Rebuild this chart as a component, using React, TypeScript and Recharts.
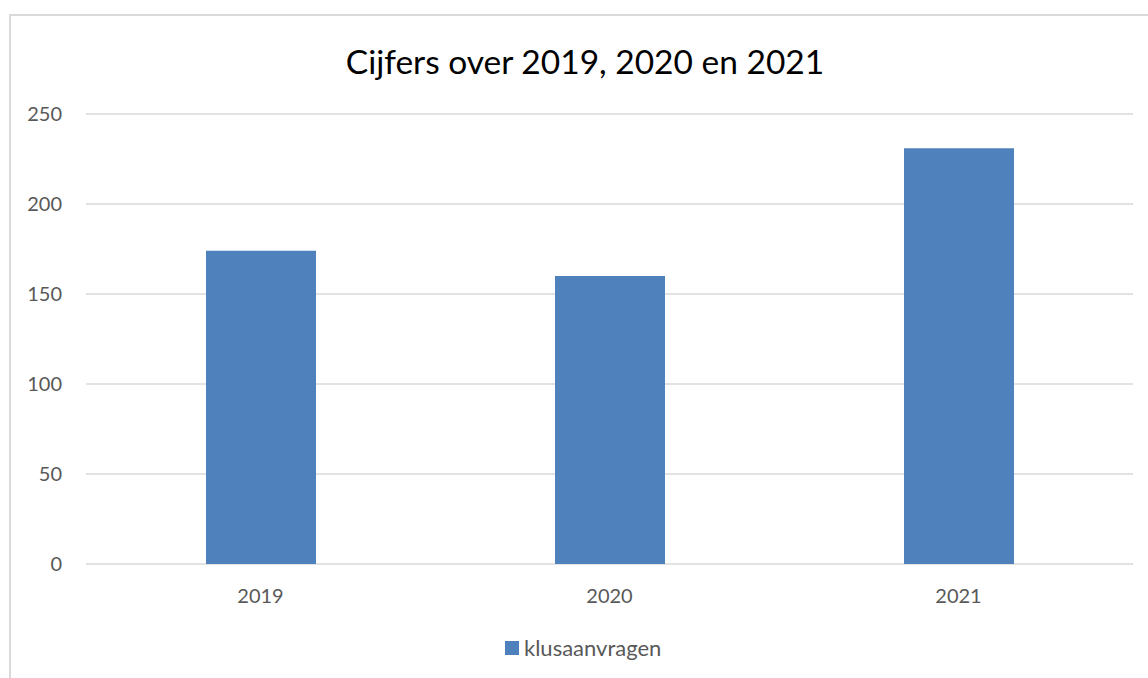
import { BarChart, Bar, XAxis, YAxis, CartesianGrid } from 'recharts'

// ─── Data ────────────────────────────────────────────────────────────────────
const YEARS = ['2019', '2020', '2021']
const KLUSAANVRAGEN = [174, 160, 231]
const Y_TICKS = [0, 50, 100, 150, 200, 250]

const SERIES_NAME = 'klusaanvragen'
const BAR_COLOR = '#4F81BD'
const GRID_STROKE = '#D9D9D9'
const FONT = 'Lato, Carlito, Calibri, sans-serif'

const TICK_STYLE = { fontSize: 20, fontFamily: FONT, fill: '#595959' }

const data = YEARS.map((year, i) => ({ year, [SERIES_NAME]: KLUSAANVRAGEN[i] }))

export default function App() {
  return (
    <div
      style={{
        position: 'fixed',
        left: 0,
        top: 0,
        width: 1148,
        height: 678,
        background: '#FFFFFF',
        overflow: 'hidden',
        fontFamily: FONT,
      }}
    >
      {/* chart area frame, runs off the right and bottom edges */}
      <div
        style={{
          position: 'absolute',
          left: 9,
          top: 14,
          width: 1200,
          height: 700,
          borderLeft: `2px solid ${GRID_STROKE}`,
          borderTop: `2px solid ${GRID_STROKE}`,
        }}
      />
      <div
        style={{
          position: 'absolute',
          left: 0,
          top: 37,
          width: 1170,
          textAlign: 'center',
          fontSize: 33.5,
          color: '#000000',
          lineHeight: '48px',
        }}
      >
        Cijfers over 2019, 2020 en 2021
      </div>
      <div style={{ position: 'absolute', left: 0, top: 0 }}>
        <BarChart
          width={1148}
          height={678}
          data={data}
          margin={{ top: 114, right: 15, left: 0, bottom: 0 }}
          barCategoryGap={0}
        >
          <CartesianGrid stroke={GRID_STROKE} strokeWidth={1.6} vertical={false} />
          <XAxis
            dataKey="year"
            tick={TICK_STYLE}
            axisLine={false}
            tickLine={false}
            tickSize={0}
            tickMargin={25}
            height={114}
          />
          <YAxis
            domain={[0, 250]}
            ticks={Y_TICKS}
            tick={TICK_STYLE}
            axisLine={false}
            tickLine={false}
            tickSize={0}
            tickMargin={24}
            width={86}
            interval={0}
          />
          <Bar dataKey={SERIES_NAME} fill={BAR_COLOR} barSize={110} isAnimationActive={false} />
        </BarChart>
      </div>
      {/* legend */}
      <div
        style={{
          position: 'absolute',
          left: 505,
          top: 634,
          display: 'flex',
          alignItems: 'center',
          fontSize: 22,
          color: '#595959',
          lineHeight: '28px',
        }}
      >
        <span style={{ display: 'inline-block', width: 14, height: 14, background: BAR_COLOR, marginRight: 5 }} />
        {SERIES_NAME}
      </div>
    </div>
  )
}
